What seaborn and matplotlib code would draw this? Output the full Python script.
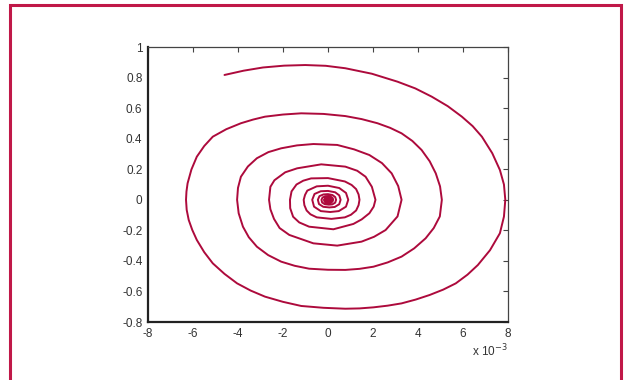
import numpy as np
import pandas as pd
import seaborn as sns
import matplotlib.pyplot as plt
from matplotlib.patches import Rectangle

# Trajectory as (x, y) points, x in units of 1e-3.
# One list per turn of the spiral, going clockwise and inwards.
turn_1 = [
    (-4.60, 0.817), (-3.75, 0.845), (-2.89, 0.866), (-1.95, 0.878), (-1.01, 0.882),
    (-0.10, 0.877), (0.77, 0.861), (1.95, 0.825), (3.09, 0.773), (3.88, 0.729),
    (4.61, 0.675), (5.32, 0.613), (5.95, 0.544), (6.43, 0.482), (6.84, 0.413),
    (7.30, 0.305), (7.64, 0.195), (7.82, 0.100), (7.88, 0.000), (7.82, -0.110),
    (7.64, -0.219), (7.20, -0.330), (6.66, -0.427), (6.20, -0.490), (5.68, -0.547),
    (5.12, -0.588), (4.52, -0.623), (3.90, -0.653), (3.27, -0.678), (2.65, -0.693),
    (2.02, -0.704), (1.40, -0.711), (0.77, -0.713), (-0.20, -0.707), (-1.19, -0.695),
    (-2.00, -0.668), (-2.80, -0.634), (-3.44, -0.594), (-4.04, -0.547), (-4.60, -0.485),
    (-5.12, -0.416), (-5.50, -0.343), (-5.83, -0.263), (-6.03, -0.198), (-6.19, -0.132),
    (-6.28, -0.066), (-6.31, 0.000),
]
turn_2 = [
    (-6.29, 0.054), (-6.24, 0.108), (-6.07, 0.198), (-5.83, 0.282), (-5.50, 0.352),
    (-5.12, 0.413), (-4.52, 0.462), (-3.87, 0.501), (-3.33, 0.525), (-2.80, 0.544),
    (-2.00, 0.558), (-1.19, 0.566), (-0.20, 0.562), (0.77, 0.548), (1.50, 0.528),
    (2.20, 0.501), (2.76, 0.471), (3.27, 0.435), (3.75, 0.385), (4.16, 0.326),
    (4.52, 0.252), (4.79, 0.173), (4.98, 0.088), (5.06, 0.000), (4.97, -0.109),
    (4.70, -0.185), (4.34, -0.252), (3.83, -0.318), (3.27, -0.372), (2.65, -0.410),
    (2.02, -0.438), (1.40, -0.452), (0.77, -0.459), (0.00, -0.458), (-0.84, -0.451),
    (-1.48, -0.432), (-2.08, -0.405), (-2.66, -0.362), (-3.16, -0.307), (-3.52, -0.245),
    (-3.78, -0.176), (-3.97, -0.088), (-4.04, 0.000),
]
turn_3 = [
    (-4.00, 0.078), (-3.87, 0.151), (-3.56, 0.218), (-3.16, 0.272), (-2.65, 0.312),
    (-2.08, 0.337), (-1.38, 0.356), (-0.65, 0.365), (0.41, 0.359), (1.16, 0.330),
    (1.84, 0.293), (2.40, 0.240), (2.83, 0.173), (3.12, 0.090), (3.27, 0.000),
    (3.09, -0.109), (2.56, -0.198), (2.05, -0.242), (1.49, -0.274), (0.41, -0.300),
    (-0.65, -0.285), (-1.72, -0.230), (-2.15, -0.185), (-2.40, -0.125), (-2.56, -0.062),
    (-2.62, 0.000),
]
turn_4 = [
    (-2.56, 0.085), (-2.38, 0.128), (-1.90, 0.180), (-1.37, 0.206), (-0.30, 0.232),
    (0.77, 0.217), (1.30, 0.190), (1.67, 0.151), (1.95, 0.085), (2.11, 0.000),
    (2.03, -0.045), (1.84, -0.088), (1.50, -0.128), (1.13, -0.158), (0.24, -0.193),
    (-0.84, -0.176), (-1.28, -0.148), (-1.55, -0.111), (-1.68, -0.055), (-1.69, 0.000),
]
turn_5 = [
    (-1.62, 0.055), (-1.40, 0.100), (-1.10, 0.125), (-0.75, 0.140), (0.00, 0.142),
    (0.75, 0.120), (1.05, 0.097), (1.25, 0.070), (1.36, 0.035), (1.40, 0.000),
    (1.36, -0.035), (1.25, -0.070), (1.02, -0.098), (0.75, -0.115), (0.15, -0.125),
    (-0.50, -0.115), (-0.78, -0.095), (-0.95, -0.070), (-1.05, -0.035), (-1.08, 0.000),
]
turn_6 = [
    (-1.02, 0.032), (-0.92, 0.060), (-0.50, 0.088), (0.00, 0.092), (0.50, 0.077),
    (0.80, 0.045), (0.90, 0.000), (0.80, -0.045), (0.48, -0.074), (0.10, -0.080),
    (-0.32, -0.074), (-0.62, -0.045), (-0.70, 0.000),
]
turn_7 = [
    (-0.60, 0.038), (-0.32, 0.056), (0.00, 0.058), (0.32, 0.049), (0.50, 0.029),
    (0.56, 0.000), (0.50, -0.029), (0.30, -0.047), (0.06, -0.050), (-0.21, -0.046),
    (-0.40, -0.028), (-0.45, 0.000),
]
core = [
    (-0.38, 0.024), (-0.20, 0.035), (0.00, 0.037), (0.20, 0.031), (0.32, 0.018),
    (0.36, 0.000), (0.32, -0.019), (0.19, -0.030), (0.04, -0.032), (-0.14, -0.029),
    (-0.26, -0.018), (-0.29, 0.000), (-0.24, 0.015), (-0.13, 0.022), (0.00, 0.024),
    (0.13, 0.020), (0.21, 0.011), (0.23, 0.000), (0.20, -0.012), (0.12, -0.019),
    (0.02, -0.020), (-0.09, -0.018), (-0.16, -0.011), (-0.18, 0.000), (-0.10, 0.013),
    (0.00, 0.015), (0.10, 0.011), (0.15, 0.000), (0.10, -0.011), (0.00, -0.013),
    (-0.08, -0.010), (-0.12, 0.000), (-0.06, 0.009), (0.00, 0.010), (0.06, 0.007),
    (0.09, 0.000), (0.05, -0.006), (0.00, -0.007), (-0.05, -0.005), (-0.06, 0.000),
    (0.00, 0.003), (0.03, 0.000), (0.00, -0.002), (0.00, 0.000),
]

x_ticks = [-8, -6, -4, -2, 0, 2, 4, 6, 8]
x_labels = ["-8", "-6", "-4", "-2", "0", "2", "4", "6", "8"]
y_ticks = [-0.8, -0.6, -0.4, -0.2, 0, 0.2, 0.4, 0.6, 0.8, 1]
y_labels = ["-0.8", "-0.6", "-0.4", "-0.2", "0", "0.2", "0.4", "0.6", "0.8", "1"]

points = turn_1 + turn_2 + turn_3 + turn_4 + turn_5 + turn_6 + turn_7 + core
df = pd.DataFrame(points, columns=["x", "y"])

sns.set_style("white")
plt.rcParams['font.family'] = ['Liberation Sans', 'DejaVu Sans']

line_color = "#AD0A3C"
text_color = "#333333"

fig = plt.figure(figsize=(6.26, 3.8), dpi=100)
ax = fig.add_axes([0.2364, 0.1526, 0.5751, 0.7237])

sns.lineplot(data=df, x="x", y="y", sort=False, estimator=None,
             color=line_color, linewidth=1.4, ax=ax)

ax.set_xlim(-8, 8)
ax.set_ylim(-0.8, 1)
ax.set_xticks(x_ticks)
ax.set_xticklabels(x_labels)
ax.set_yticks(y_ticks)
ax.set_yticklabels(y_labels)
ax.set_xlabel("")
ax.set_ylabel("")

ax.tick_params(direction="in", length=3.5, width=0.8, top=True, right=True,
               labelsize=8.5, labelcolor=text_color, color="#444444", pad=4)
for side in ["left", "bottom"]:
    ax.spines[side].set_linewidth(1.6)
    ax.spines[side].set_color("#222222")
for side in ["top", "right"]:
    ax.spines[side].set_linewidth(0.9)
    ax.spines[side].set_color("#444444")

# exponent note under the x axis, MATLAB style
fig.text(0.811, 0.055, r"x 10$^{-3}$", ha="right", va="bottom",
         fontsize=8.5, color=text_color)

# crimson frame around the figure
fig.patches.append(Rectangle((0.016, -0.02), 0.976, 1.007,
                             transform=fig.transFigure, fill=False,
                             edgecolor="#C01848", linewidth=2.2))

fig.savefig("out.png", dpi=100)
